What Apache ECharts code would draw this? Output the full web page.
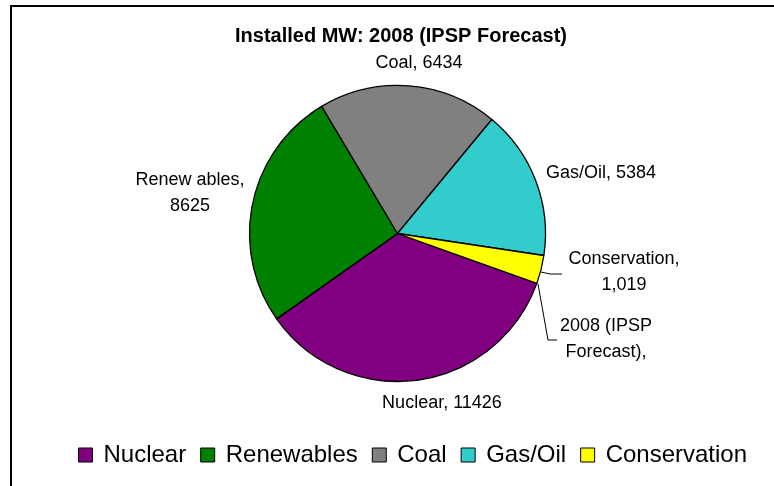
<!DOCTYPE html>
<html>
<head>
<meta charset="utf-8">
<title>Installed MW: 2008 (IPSP Forecast)</title>
<script src="https://cdn.jsdelivr.net/npm/echarts@6/dist/echarts.min.js"></script>
<style>
  html, body { margin: 0; padding: 0; background: #fff; }
  #main { width: 774px; height: 486px; }
</style>
</head>
<body>
<div id="main"></div>
<script>
// data
const categories = ['Nuclear', 'Renewables', 'Coal', 'Gas/Oil', 'Conservation']
const sliceNames = ['Nuclear', 'Renew ables', 'Coal', 'Gas/Oil', 'Conservation']
const values = [11426, 8625, 6434, 5384, 1019]
const colors = ['#800080', '#008000', '#808080', '#33cccc', '#ffff00']

const font = '"Liberation Sans", Arial, sans-serif'

// where each slice label sits (centre of the text block)
const labelSpots = [[442, 403], [190, 193], [419, 63], [601, 173], [624, 272]]
const twoLine = [false, true, false, false, true]

function valueText (v, i) {
  // only the conservation label shows a thousands separator
  return i === 4 ? v.toLocaleString('en-US') : String(v)
}

var chartDom = document.getElementById('main')
var myChart = echarts.init(chartDom)
var option

option = {
  animation: false,
  title: {
    text: 'Installed MW: 2008 (IPSP Forecast)',
    left: 401,
    top: 26,
    padding: 0,
    textAlign: 'center',
    textStyle: {
      fontFamily: font,
      fontSize: 20,
      fontWeight: 'bold',
      color: '#000'
    }
  },
  legend: {
    data: categories,
    left: 78,
    top: 443,
    padding: 0,
    itemWidth: 14,
    itemHeight: 14,
    itemGap: 14,
    icon: 'rect',
    selectedMode: false,
    itemStyle: {
      borderColor: '#000',
      borderWidth: 1
    },
    textStyle: {
      fontFamily: font,
      fontSize: 24,
      color: '#000',
      padding: [0, 0, 0, 6]
    }
  },
  graphic: [
    {
      type: 'rect',
      shape: { x: 11, y: 6, width: 900, height: 600 },
      style: { fill: 'none', stroke: '#000', lineWidth: 2 },
      silent: true,
      z: -1
    },
    {
      type: 'polyline',
      shape: { points: [[538, 284], [548, 340], [557, 340]] },
      style: { fill: 'none', stroke: '#000', lineWidth: 1 },
      silent: true
    },
    {
      type: 'text',
      x: 606,
      y: 339,
      style: {
        text: '2008 (IPSP\nForecast),',
        fontFamily: font,
        fontSize: 18,
        lineHeight: 26,
        fill: '#000',
        align: 'center',
        verticalAlign: 'middle'
      },
      silent: true
    }
  ],
  series: [
    {
      name: '2008 (IPSP Forecast)',
      type: 'pie',
      center: [397.5, 233.5],
      radius: 148,
      startAngle: -19.7,
      clockwise: true,
      avoidLabelOverlap: false,
      silent: true,
      itemStyle: {
        borderColor: '#000',
        borderWidth: 1.3
      },
      label: {
        show: true,
        position: 'outside',
        fontFamily: font,
        fontSize: 18,
        lineHeight: 26,
        color: '#000',
        align: 'center',
        formatter: function (p) {
          const i = p.dataIndex
          return sliceNames[i] + ',' + (twoLine[i] ? '\n' : ' ') + valueText(p.value, i)
        }
      },
      labelLine: {
        show: false
      },
      labelLayout: function (params) {
        const spot = labelSpots[params.dataIndex]
        const out = {
          x: spot[0],
          y: spot[1],
          align: 'center',
          verticalAlign: 'middle'
        }
        if (params.dataIndex === 4) {
          out.labelLinePoints = [[541, 272], [550, 274], [562, 274]]
        }
        return out
      },
      data: categories.map((name, i) => {
        const item = {
          name: name,
          value: values[i],
          itemStyle: { color: colors[i] }
        }
        if (i === 4) {
          item.labelLine = { show: true, lineStyle: { color: '#000', width: 1 } }
        }
        return item
      })
    }
  ]
}

option && myChart.setOption(option)
</script>
</body>
</html>
